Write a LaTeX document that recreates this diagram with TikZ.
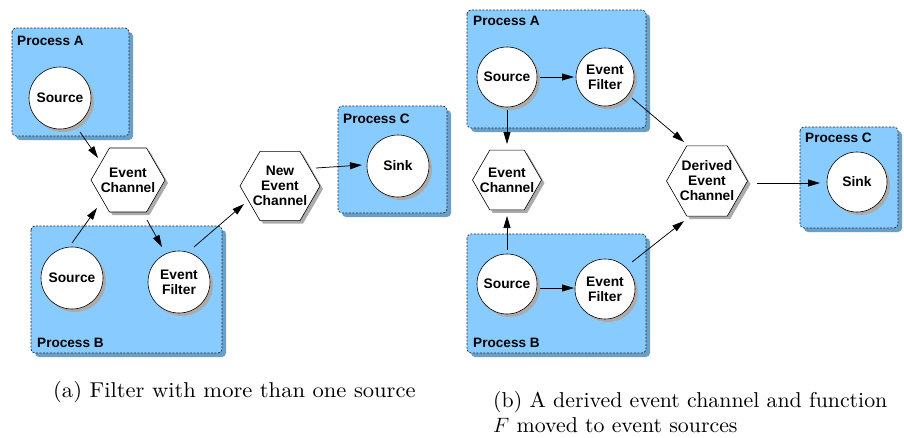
\documentclass[tikz,border=0pt]{standalone}
\usepackage{fontspec}
\newfontfamily\labelfont{Liberation Sans}
\newfontfamily\capfont{lmroman10-regular.otf}
\usetikzlibrary{shapes.geometric,shadows,arrows.meta,calc}
\definecolor{procfill}{HTML}{88CCFF}
\definecolor{procshade}{HTML}{6A9FC8}
\definecolor{nodeshade}{HTML}{ABABAB}
\tikzset{
  proc/.style={draw=black!85, dash pattern=on 2pt off 1.5pt, line width=0.7pt,
    fill=procfill, rounded corners=4pt,
    drop shadow={shadow xshift=4pt, shadow yshift=-4pt, fill=procshade, opacity=1}},
  procname/.style={font=\labelfont\bfseries\fontsize{13.6}{15}\selectfont, inner sep=0pt, anchor=west},
  elem/.style={circle, draw=black, line width=0.6pt, fill=white, minimum size=#1, inner sep=0pt,
    drop shadow={shadow xshift=3pt, shadow yshift=-3pt, fill=nodeshade, opacity=1}},
  hexa/.style={regular polygon, regular polygon sides=6, draw=black, line width=0.6pt, fill=white,
    minimum size=#1, inner sep=0pt,
    drop shadow={shadow xshift=3pt, shadow yshift=-3pt, fill=nodeshade, opacity=1}},
  txt/.style={font=\labelfont\bfseries\fontsize{13.8}{15}\selectfont, align=center, inner sep=0pt},
  arr/.style={-{Triangle[length=12pt,width=7pt]}, line width=0.75pt},
  captext/.style={font=\capfont\fontsize{21.5}{25}\selectfont, inner sep=0pt, anchor=west, align=left}
}
\begin{document}
\begin{tikzpicture}[x=1pt,y=-1pt]
\useasboundingbox (0,0) rectangle (904,437);

% ---------- (a) filter with more than one source ----------
\draw[proc] (12,28) rectangle (129,136);
\node[procname] (pnA) at (17,41) {Process A};
\draw[proc] (31,226) rectangle (222,353);
\node[procname] (pnB) at (37,343) {Process B};
\draw[proc] (338,106) rectangle (447,213);
\node[procname] (pnC) at (343,119) {Process C};

\node[elem=62pt] (srcA) at (60,98) {};
\node[txt] at (srcA) {Source};
\node[hexa=74pt] (ec1) at (128,180) {};
\node[txt] at (ec1) {Event\\Channel};
\node[elem=62pt] (srcB) at (72,278) {};
\node[txt] at (srcB) {Source};
\node[elem=62pt] (filB) at (179,282) {};
\node[txt] at (filB) {Event\\Filter};
\node[hexa=80pt] (nec) at (280,186) {};
\node[txt] at (nec) {New\\Event\\Channel};
\node[elem=62pt] (sinkC) at (398,166) {};
\node[txt] at (sinkC) {Sink};

\draw[arr] ($(srcA)+(20,34)$) -- ($(ec1)+(-30,-22)$);
\draw[arr] ($(srcB)+(0,-35)$) -- ($(ec1)+(-31,28)$);
\draw[arr] ($(ec1)+(19,40)$) -- ($(filB)+(-17,-35)$);
\draw[arr] ($(filB)+(15,-35)$) -- ($(nec)+(-36,18)$);
\draw[arr] ($(nec)+(36,-18)$) -- ($(sinkC)+(-36,-1)$);

\node[captext] (capA) at (53,392) {\scalebox{1.05}[1]{(a) Filter with more than one source}};

% ---------- (b) derived event channel ----------
\draw[proc] (467,10) rectangle (646,128);
\node[procname] (pnA2) at (473,21) {Process A};
\draw[proc] (467,234) rectangle (646,353);
\node[procname] (pnB2) at (473,343) {Process B};
\draw[proc] (800,127) rectangle (898,228);
\node[procname] (pnC2) at (805,138) {Process C};

\node[elem=60pt] (src1) at (507,77) {};
\node[txt] at (src1) {Source};
\node[elem=58pt] (fil1) at (605,77) {};
\node[txt] at (fil1) {Event\\Filter};
\node[hexa=69pt] (ec2) at (507,180) {};
\node[txt] at (ec2) {Event\\Channel};
\node[elem=60pt] (src2) at (507,284) {};
\node[txt] at (src2) {Source};
\node[elem=60pt] (fil2) at (605,289) {};
\node[txt] at (fil2) {Event\\Filter};
\node[hexa=81pt] (dec) at (707,181) {};
\node[txt] at (dec) {Derived\\Event\\Channel};
\node[elem=60pt] (sink2) at (857,182) {};
\node[txt] at (sink2) {Sink};

\draw[arr] ($(src1)+(33,0)$) -- ($(fil1)+(-31,0)$);
\draw[arr] ($(src1)+(0,33)$) -- ($(ec2)+(0,-36)$);
\draw[arr] ($(src2)+(0,-34)$) -- ($(ec2)+(0,36)$);
\draw[arr] ($(src2)+(33,4)$) -- ($(fil2)+(-31,-1)$);
\draw[arr] ($(fil1)+(27,21)$) -- ($(dec)+(-23,-39)$);
\draw[arr] ($(fil2)+(27,-27)$) -- ($(dec)+(-23,40)$);
\draw[arr] ($(dec)+(50,2)$) -- ($(sink2)+(-37,1)$);

\node[captext] (capB) at (493,412) {\scalebox{1.015}[1]{(b) A derived event channel and function}\\\scalebox{1.015}[1]{$F$ moved to event sources}};
\end{tikzpicture}
\end{document}
